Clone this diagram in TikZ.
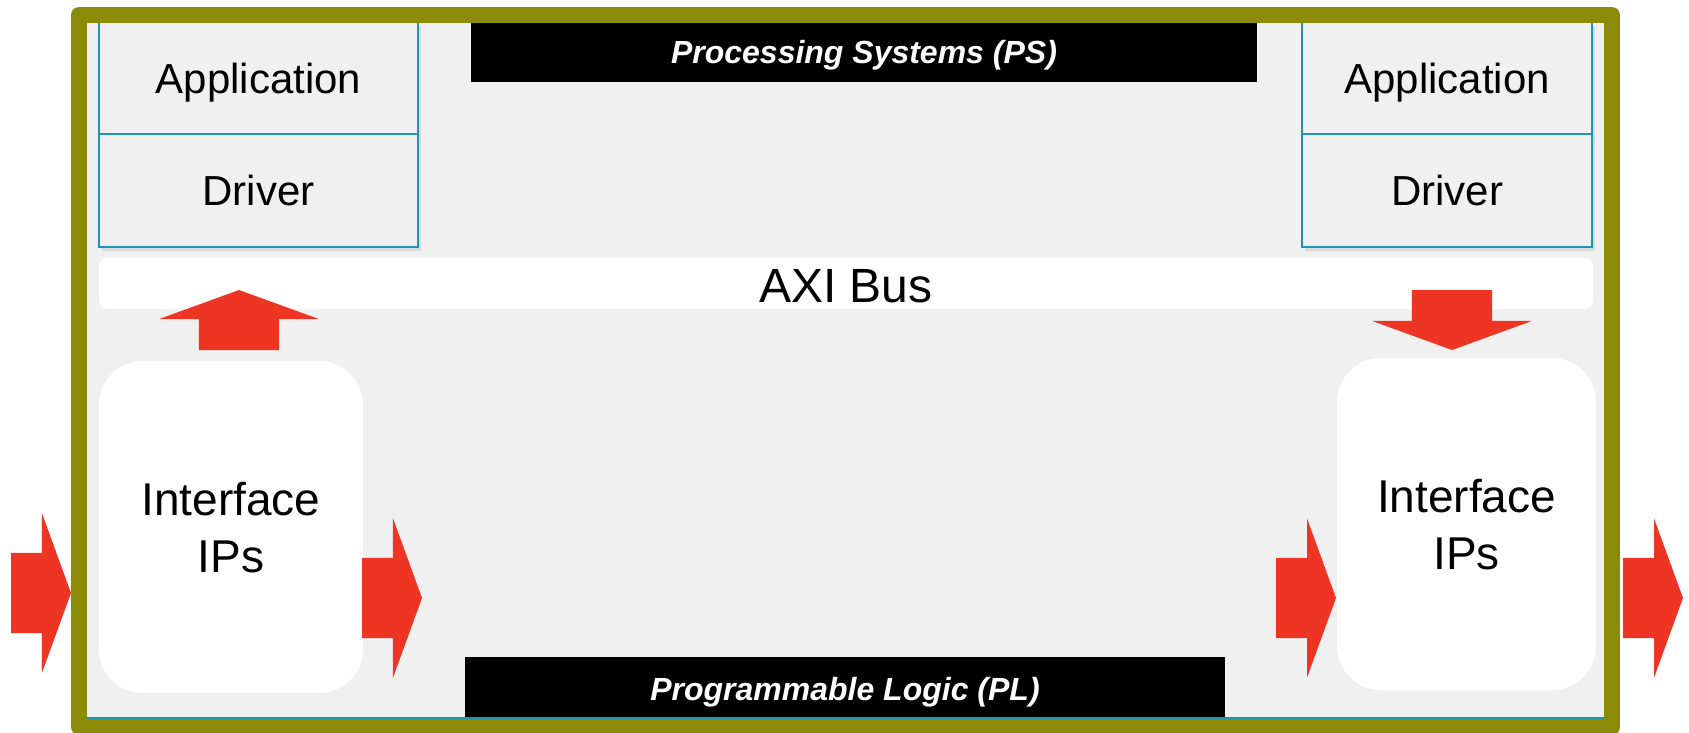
\documentclass[tikz,border=0pt]{standalone}
\usepackage{fontspec}
\setmainfont{Liberation Sans}
\usetikzlibrary{shapes.arrows,shadows}
\definecolor{olivebar}{HTML}{8B8B08}
\definecolor{panelgray}{HTML}{F0F0F0}
\definecolor{layerteal}{HTML}{1B95B5}
\definecolor{arrowred}{HTML}{EE3524}

\begin{document}
\begin{tikzpicture}[x=1pt,y=-1pt,
  every node/.style={inner sep=0pt,outer sep=0pt,text depth=0pt},
  layer/.style={draw=layerteal,line width=2pt,fill=panelgray,minimum height=113pt,
    font=\fontsize{42}{50}\selectfont,
    drop shadow={shadow xshift=3pt,shadow yshift=-4pt,opacity=.2}},
  ipblock/.style={fill=white,rounded corners=44pt,minimum height=332pt,align=center,
    font=\fontsize{46}{57}\selectfont},
  banner/.style={fill=black,text=white,font=\fontsize{32}{38}\bfseries\itshape\selectfont},
  flow/.style={single arrow,fill=arrowred,inner xsep=0pt,inner ysep=40pt,minimum height=60pt,
    single arrow head extend=39.5pt,single arrow tip angle=140},
  vflow/.style={flow,inner xsep=40pt,inner ysep=0pt}]
\useasboundingbox (0,0) rectangle (1689,733);
\fill[panelgray] (79,15) rectangle (1612,727);
\node[layer,minimum width=319pt] (appl) at (258.5,78.5) {Application};
\node[layer,minimum width=319pt] (drvl) at (258.5,190.5) {Driver};
\node[layer,minimum width=290pt] (appr) at (1447,78.5) {Application};
\node[layer,minimum width=290pt] (drvr) at (1447,190.5) {Driver};
\node[fill=white,rounded corners=8pt,minimum width=1494pt,minimum height=51pt,text height=37pt,
  font=\fontsize{48}{56}\selectfont] (axi) at (846,283.5) {AXI Bus};
\node[banner,minimum width=786pt,minimum height=60pt] (ps) at (864,52) {Processing Systems (PS)};
\node[banner,minimum width=760pt,minimum height=63pt] (pl) at (845,688.5) {Programmable Logic (PL)};
\node[ipblock,minimum width=264pt] (ifl) at (231,527) {Interface\\IPs};
\node[ipblock,minimum width=259pt] (ifr) at (1466.5,524) {Interface\\IPs};
\node[vflow,shape border rotate=90,anchor=tip] (upl) at (239,290) {};
\node[vflow,shape border rotate=270,anchor=tip] (downr) at (1452,350) {};
\node[flow,anchor=tip] (inl) at (71,593) {};
\node[flow,anchor=tip] (outl) at (422,598) {};
\node[flow,anchor=tip] (inr) at (1336,598) {};
\node[flow,anchor=tip] (outr) at (1683,598) {};
\draw[layerteal,line width=2pt] (87,718) -- (1604,718);
\draw[olivebar,line width=16pt,line join=round] (79,15) rectangle (1612,727);
\end{tikzpicture}
\end{document}
